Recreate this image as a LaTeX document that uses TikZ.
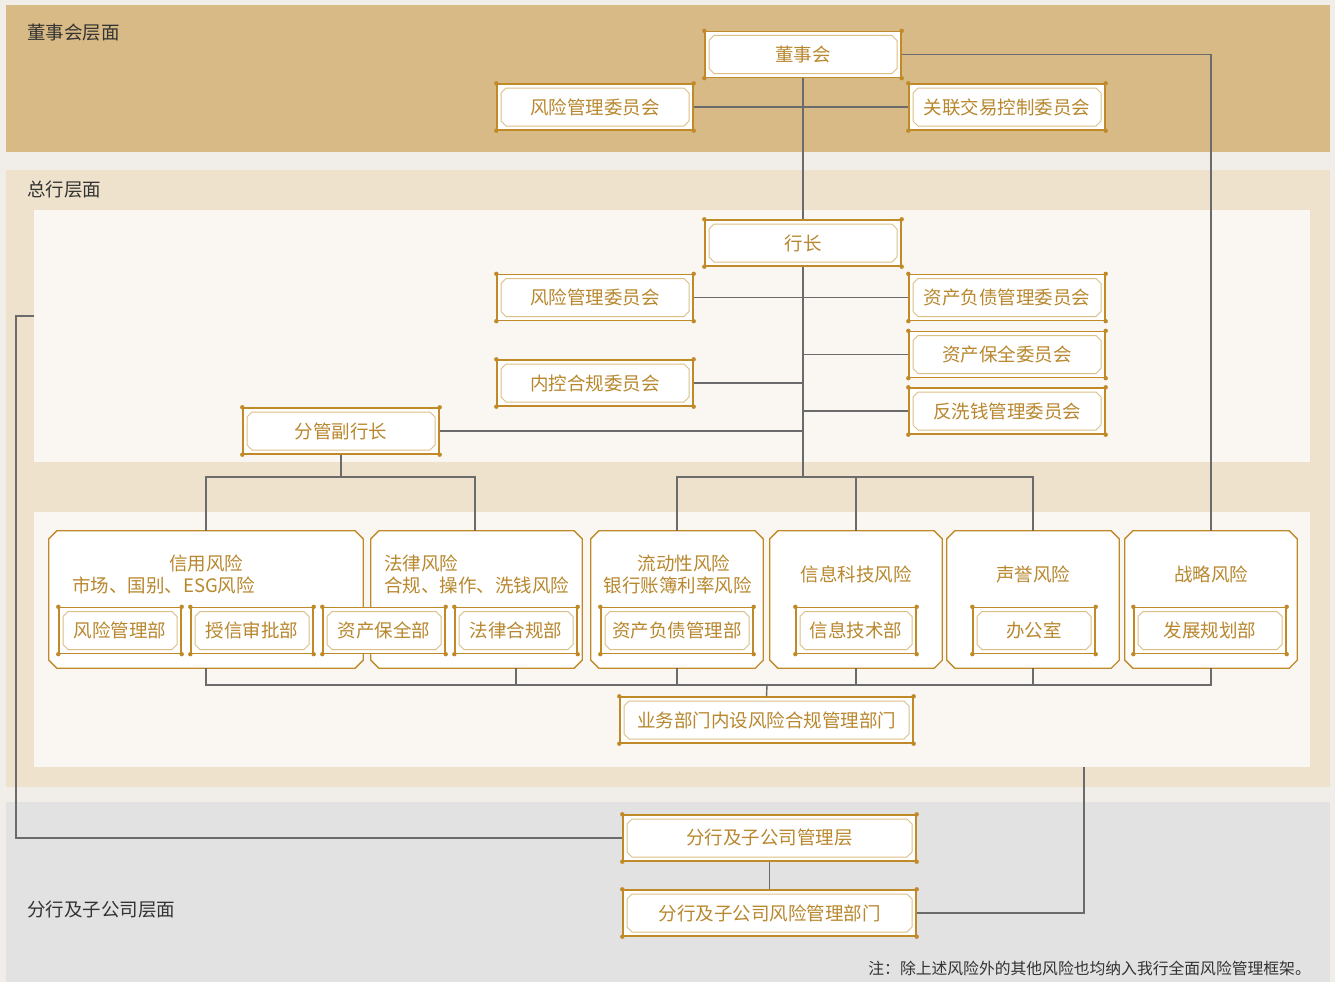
\documentclass[tikz,border=0pt]{standalone}
\usepackage{fontspec}
\newfontfamily\cjk{Noto Sans CJK SC}
\definecolor{bgc}{HTML}{F1EEEA}
\definecolor{boardc}{HTML}{D8BA86}
\definecolor{hqc}{HTML}{EEE2CC}
\definecolor{panelc}{HTML}{FAF7F2}
\definecolor{branchc}{HTML}{E2E2E2}
\definecolor{goldc}{HTML}{C08A28}
\definecolor{lgold}{HTML}{DCBF85}
\definecolor{goldt}{HTML}{B8872E}
\definecolor{linec}{HTML}{6B6B6B}
\definecolor{labc}{HTML}{333333}
\tikzset{
  cjkfont/.style={font=\cjk\fontsize{18.5}{22}\selectfont},
  orn/.style={rectangle, fill=white, draw=goldc, line width=1.4pt,
    minimum width=#1, minimum height=46pt, inner sep=0pt, text=goldt, cjkfont,
    path picture={\draw[lgold, line width=1pt]
      ([xshift=4pt,yshift=-9pt]path picture bounding box.north west) --
      ([xshift=9pt,yshift=-4pt]path picture bounding box.north west) --
      ([xshift=-9pt,yshift=-4pt]path picture bounding box.north east) --
      ([xshift=-4pt,yshift=-9pt]path picture bounding box.north east) --
      ([xshift=-4pt,yshift=9pt]path picture bounding box.south east) --
      ([xshift=-9pt,yshift=4pt]path picture bounding box.south east) --
      ([xshift=9pt,yshift=4pt]path picture bounding box.south west) --
      ([xshift=4pt,yshift=9pt]path picture bounding box.south west) -- cycle;}},
  riskbox/.style={rectangle, draw=none, minimum width=#1, minimum height=137pt, inner sep=0pt},
  riskline/.style={fill=white, draw=goldc, line width=1.3pt},
  risktxt/.style={text=goldt, cjkfont, inner sep=0pt},
  bandlab/.style={text=labc, cjkfont, anchor=west, inner sep=0pt},
  conn/.style={draw=linec, line width=1.4pt},
  dotc/.style={fill=goldc}
}
\begin{document}
\begin{tikzpicture}[x=1pt,y=-1pt]
\useasboundingbox (0,0) rectangle (1335,982);
% backgrounds
\fill[bgc] (0,0) rectangle (1335,982);
\fill[boardc] (6,5) rectangle (1330,152);
\fill[hqc] (6,170) rectangle (1330,787);
\fill[panelc] (34,210) rectangle (1310,462);
\fill[panelc] (34,512) rectangle (1310,767);
\fill[branchc] (6,802) rectangle (1330,982);
% band labels
\node[bandlab] (lb1) at (27,33) {董事会层面};
\node[bandlab] (lb2) at (27,190) {总行层面};
\node[bandlab] (lb3) at (27,910) {分行及子公司层面};
\node[text=labc, font=\cjk\fontsize{15.8}{18}\selectfont, anchor=east, inner sep=0pt] (note) at (1311,968) {注：除上述风险外的其他风险也均纳入我行全面风险管理框架。};
% board level
\node[orn=196] (dsh) at (803,54.5) {董事会};
\node[orn=196] (fx1) at (595,107) {风险管理委员会};
\node[orn=196] (gl) at (1007,107) {关联交易控制委员会};
% HQ level
\node[orn=196] (hz) at (803,243) {行长};
\node[orn=196] (fx2) at (595,297.5) {风险管理委员会};
\node[orn=196] (zf) at (1007,297.5) {资产负债管理委员会};
\node[orn=196] (zb) at (1007,354.5) {资产保全委员会};
\node[orn=196] (nk) at (595,383) {内控合规委员会};
\node[orn=196] (fxq) at (1007,411) {反洗钱管理委员会};
\node[orn=196] (fg) at (341,431) {分管副行长};
% risk boxes
\node[riskbox=314] (r1) at (206,599.5) {};
\node[riskbox=211] (r2) at (476.5,599.5) {};
\node[riskbox=172] (r3) at (677,599.5) {};
\node[riskbox=172] (r4) at (856,599.5) {};
\node[riskbox=172] (r5) at (1033,599.5) {};
\node[riskbox=172] (r6) at (1211,599.5) {};
\foreach \n in {r1,r2,r3,r4,r5,r6}{
  \path[riskline] ([xshift=8pt]\n.north west) -- ([xshift=-8pt]\n.north east)
    -- ([yshift=-8pt]\n.north east) -- ([yshift=8pt]\n.south east)
    -- ([xshift=-8pt]\n.south east) -- ([xshift=8pt]\n.south west)
    -- ([yshift=8pt]\n.south west) -- ([yshift=-8pt]\n.north west) -- cycle;
}
\node[risktxt] (t1a) at (206,563) {信用风险};
\node[risktxt, anchor=west] (t1b) at (72,585) {市场、国别、ESG风险};
\node[risktxt, anchor=west] (t2a) at (384,563) {法律风险};
\node[risktxt, anchor=west] (t2b) at (384,585) {合规、操作、洗钱风险};
\node[risktxt] (t3a) at (684,563) {流动性风险};
\node[risktxt] (t3b) at (677.5,585) {银行账簿利率风险};
\node[risktxt] (t4) at (856,574) {信息科技风险};
\node[risktxt] (t5) at (1033,574) {声誉风险};
\node[risktxt] (t6) at (1211,574) {战略风险};
% departments
\node[orn=122] (s1) at (120,630.5) {风险管理部};
\node[orn=122] (s2) at (252,630.5) {授信审批部};
\node[orn=122] (s3) at (384,630.5) {资产保全部};
\node[orn=122] (s4) at (516,630.5) {法律合规部};
\node[orn=152] (s5) at (677,630.5) {资产负债管理部};
\node[orn=120] (s6) at (856,630.5) {信息技术部};
\node[orn=122] (s7) at (1034,630.5) {办公室};
\node[orn=152] (s8) at (1210,630.5) {发展规划部};
\node[orn=293] (yw) at (766.5,720) {业务部门内设风险合规管理部门};
% branch level
\node[orn=293] (gm) at (769.5,838) {分行及子公司管理层};
\node[orn=293] (gr) at (769.5,913) {分行及子公司风险管理部门};
% junction coordinates
\coordinate (jA) at (803,477);
\coordinate (jB) at (341,477);
\coordinate (jC) at (767,685);
\coordinate (lp) at (34,316);
\coordinate (rp) at (1084,767);
% connectors
\draw[conn] (dsh.south) -- (hz.north);
\draw[conn] (fx1.east) -- (gl.west);
\draw[conn] (dsh.east) -| (r6.north);
\draw[conn] (hz.south) -- (jA);
\draw[conn] (fx2.east) -- (zf.west);
\draw[conn] (zb.west) -- (zb.west -| hz.south);
\draw[conn] (nk.east) -- (nk.east -| hz.south);
\draw[conn] (fxq.west) -- (fxq.west -| hz.south);
\draw[conn] (fg.east) -- (fg.east -| hz.south);
\draw[conn] (fg.south) -- (jB);
\draw[conn] (r1.north) |- (jB) -| ([xshift=-1.5pt]r2.north);
\draw[conn] (r3.north) |- (jA) -| (r5.north);
\draw[conn] (r4.north) -- (r4.north |- jA);
\draw[conn] (r1.south) |- (jC) -| (r6.south);
\draw[conn] (s4.center |- r2.south) -- (s4.center |- jC);
\draw[conn] (r3.south) -- (r3.south |- jC);
\draw[conn] (r4.south) -- (r4.south |- jC);
\draw[conn] (r5.south) -- (r5.south |- jC);
\draw[conn] (jC) -- (yw.north);
\draw[conn] (lp) -- ++(-18,0) |- (gm.west);
\draw[conn] (gm.south) -- (gr.north);
\draw[conn] (gr.east) -| (rp);
% corner dots
\foreach \n in {dsh,fx1,gl,hz,fx2,zf,zb,nk,fxq,fg,s1,s2,s3,s4,s5,s6,s7,s8,yw,gm,gr}{
  \foreach \a in {north west,north east,south west,south east}{
    \fill[dotc] (\n.\a) circle (2.2pt);
  }
}
\end{tikzpicture}
\end{document}
